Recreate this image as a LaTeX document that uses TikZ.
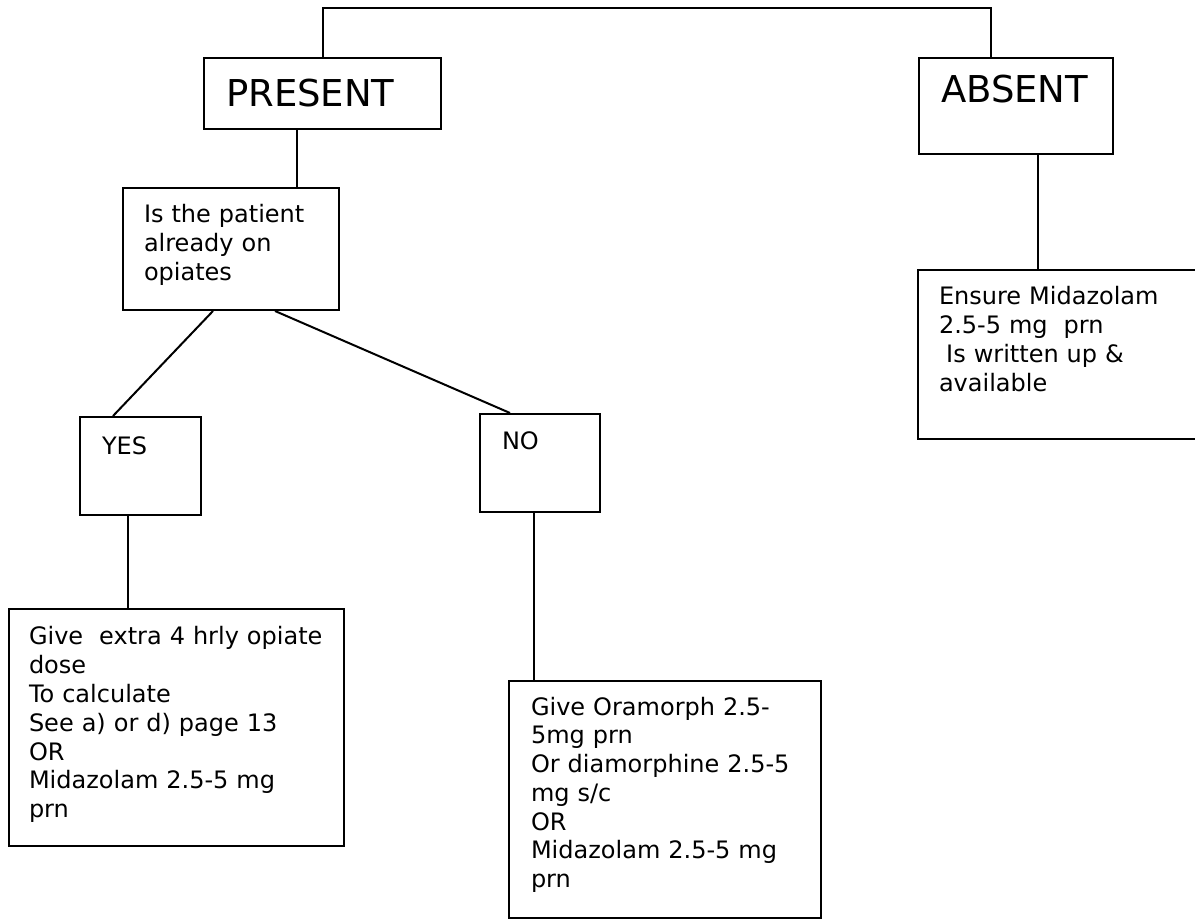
\documentclass[tikz,border=0pt]{standalone}
\usepackage{fontspec}
\setmainfont{DejaVu Sans}
\usetikzlibrary{positioning,calc}

\begin{document}
\begin{tikzpicture}[
x=1pt, y=-1pt,
line width=1pt,
box/.style={
  draw,
  rectangle,
  anchor=north west,
  inner sep=0pt},
txt/.style={
  anchor=base west,
  align=left,
  inner sep=0pt,
  font=\fontsize{12}{14.4}\selectfont},
big/.style={
  txt,
  font=\fontsize{18.5}{22}\selectfont}
]
\useasboundingbox (0,0) rectangle (597.5,459.5);
\clip (0,0) rectangle (597.5,459.5);
% boxes
\node[box, minimum width=118.5pt, minimum height=35.5pt] (present) at (101.5,28.5) {};
\node[box, minimum width=97pt, minimum height=48pt] (absent) at (459,28.5) {};
\node[box, minimum width=108pt, minimum height=61pt] (query) at (61,93.5) {};
\node[box, minimum width=60.5pt, minimum height=49pt] (yes) at (39.5,208) {};
\node[box, minimum width=60pt, minimum height=49pt] (no) at (239.5,206.5) {};
\node[box, minimum width=167.5pt, minimum height=118.5pt] (giveyes) at (4,304) {};
\node[box, minimum width=156pt, minimum height=118.5pt] (giveno) at (254,340) {};
\node[box, minimum width=145pt, minimum height=84.5pt] (ensure) at (458.5,134.5) {};
% texts
\node[big, text width=100pt] (present-t) at (112.5,53.5) {PRESENT};
\node[big, text width=80pt] (absent-t) at (470,51.5) {ABSENT};
\node[txt, text width=92pt] (query-t) at (71.5,111.5) {Is the patient\\already on\\opiates};
\node[txt, text width=40pt] (yes-t) at (50.5,227.5) {YES};
\node[txt, text width=40pt] (no-t) at (250.5,225) {NO};
\node[txt, text width=155pt] (giveyes-t) at (14,322.5)
  {Give\ \ extra 4 hrly opiate\\dose\\To calculate\\See a) or d) page 13\\OR\\Midazolam 2.5-5 mg\\prn};
\node[txt, text width=140pt] (giveno-t) at (265,357.5)
  {Give Oramorph 2.5-\\5mg prn\\Or diamorphine 2.5-5\\mg s/c\\OR\\Midazolam 2.5-5 mg\\prn};
\node[txt, text width=120pt] (ensure-t) at (469,152.5)
  {Ensure Midazolam\\2.5-5 mg\ \ prn\\\hspace*{0.3em}Is written up \&\\available};
% connectors
\coordinate (top) at (300,4.25);
\draw ($(present.north west)+(60,0)$) |- (top) -| ($(absent.north west)+(36.5,0)$);
\draw ($(present.south west)+(47,0)$) -- ($(query.north west)+(87.5,0)$);
\draw ($(query.south west)+(45.5,0)$) -- ($(yes.north west)+(17,0)$);
\draw ($(query.south west)+(76.5,0)$) -- ($(no.north west)+(15.5,0)$);
\draw ($(yes.south west)+(24.5,0)$) -- ($(giveyes.north west)+(60,0)$);
\draw ($(no.south west)+(27.5,0)$) -- ($(giveno.north west)+(13,0)$);
\draw ($(absent.south west)+(60,0)$) -- ($(ensure.north west)+(60.5,0)$);
\end{tikzpicture}
\end{document}
